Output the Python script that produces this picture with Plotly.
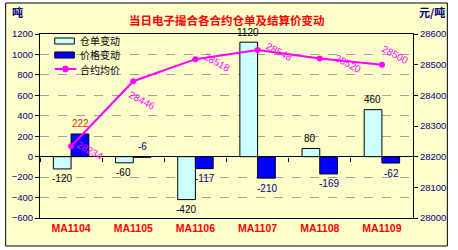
import plotly.graph_objects as go

categories = ["MA1104", "MA1105", "MA1106", "MA1107", "MA1108", "MA1109"]
warrant_change = [-120, -60, -420, 1120, 80, 460]
price_change = [222, -6, -117, -210, -169, -62]
avg_price = [28234, 28446, 28518, 28548, 28520, 28500]

title_text = "当日电子撮合各合约仓单及结算价变动"
left_unit = "吨"
right_unit = "元/吨"
series_names = ["仓单变动", "价格变动", "合约均价"]

BG = "#FFFFCC"
NAVY = "#000080"
TICKFONT = dict(family="Liberation Sans", size=9.5, color=NAVY)
CJK = "Noto Sans CJK SC"
LIGHT, BLUE, MAG = "#CCFFFF", "#0000FF", "#FF00FF"

fig = go.Figure()
fig.add_trace(go.Bar(x=categories, y=warrant_change, name=series_names[0],
                     marker=dict(color=LIGHT, line=dict(color="black", width=1))))
fig.add_trace(go.Bar(x=categories, y=price_change, name=series_names[1],
                     marker=dict(color=BLUE, line=dict(color="black", width=1))))
fig.add_trace(go.Scatter(x=categories, y=avg_price, name=series_names[2], yaxis="y2",
                         mode="lines+markers", line=dict(color=MAG, width=2),
                         marker=dict(size=6, color=MAG)))
# helper trace for zero-line boundary ticks
fig.add_trace(go.Scatter(x=categories, y=[0] * len(categories), xaxis="x2", mode="none",
                         showlegend=False, hoverinfo="skip"))

L, R, T, B = 38, 40, 34, 32
PW, PH = 458 - L - R, 250 - T - B

def px_x(p):
    return (p - L) / PW

def px_y(p):
    return (250 - B - p) / PH

annotations = []
# bar value labels
for c, v in zip(categories, warrant_change):
    annotations.append(dict(x=c, y=v, text=str(v), showarrow=False, xshift=-9.5,
                            yshift=10 if v >= 0 else -10,
                            font=dict(family="Liberation Sans", size=10, color="black")))
price_colors = ["#CC3300" if v > 0 else NAVY for v in price_change]
for c, v, col in zip(categories, price_change, price_colors):
    small = abs(v) < 20
    annotations.append(dict(x=c, y=0 if small else v, text=str(v), showarrow=False,
                            xshift=9.5, yshift=10 if (v >= 0 or small) else -10,
                            font=dict(family="Liberation Sans", size=10, color=col)))
# rotated price labels
label_shifts = [(19, -4), (9, -19), (22, -3), (21, -2), (28, -5), (13, 10)]
for c, v, (dx, dy) in zip(categories, avg_price, label_shifts):
    annotations.append(dict(x=c, y=v, yref="y2", text=str(v), showarrow=False,
                            xshift=dx, yshift=dy, textangle=28,
                            font=dict(family="Liberation Sans", size=10, color=MAG)))
annotations += [
    dict(x=0.5, y=1.02, xref="paper", yref="paper", xanchor="center", yanchor="bottom",
         text="<b>" + title_text + "</b>", showarrow=False,
         font=dict(family=CJK, size=11.5, color="#FF0000")),
    dict(x=-0.08, y=1.12, xref="paper", yref="paper", xanchor="left", yanchor="middle",
         text="<b>" + left_unit + "</b>", showarrow=False, font=dict(family=CJK, size=11, color=NAVY)),
    dict(x=1.09, y=1.12, xref="paper", yref="paper", xanchor="right", yanchor="middle",
         text="<b>" + right_unit + "</b>", showarrow=False, font=dict(family=CJK, size=11, color=NAVY)),
]

# custom legend (compact, like the original)
legend_rows = [41, 55, 69]
shapes = [dict(type="rect", xref="paper", yref="paper", x0=px_x(3), x1=px_x(453),
               y0=px_y(246), y1=px_y(3), line=dict(color="black", width=1),
               fillcolor=BG, layer="below")]
for i, (name, yy) in enumerate(zip(series_names, legend_rows)):
    if i < 2:
        shapes.append(dict(type="rect", xref="paper", yref="paper",
                           x0=px_x(53), x1=px_x(73), y0=px_y(yy + 3), y1=px_y(yy - 3),
                           fillcolor=[LIGHT, BLUE][i], line=dict(color="black", width=1)))
    else:
        shapes.append(dict(type="line", xref="paper", yref="paper",
                           x0=px_x(53), x1=px_x(75), y0=px_y(yy), y1=px_y(yy),
                           line=dict(color=MAG, width=2)))
        shapes.append(dict(type="circle", xref="paper", yref="paper",
                           x0=px_x(61), x1=px_x(67), y0=px_y(yy + 3), y1=px_y(yy - 3),
                           fillcolor=MAG, line=dict(color=MAG, width=1)))
    annotations.append(dict(x=px_x(78), y=px_y(yy), xref="paper", yref="paper",
                            xanchor="left", yanchor="middle", text=name, showarrow=False,
                            borderpad=0,
                            font=dict(family=CJK, size=10, color="black")))

fig.update_layout(
    width=458, height=250,
    margin=dict(l=L, r=R, t=T, b=B),
    paper_bgcolor="white", plot_bgcolor=BG,
    barmode="group", bargap=0.43, bargroupgap=0,
    showlegend=False,
    xaxis=dict(type="category", categoryarray=categories, showline=True, mirror=True,
               linecolor="black", linewidth=1, ticks="", showgrid=False,
               tickfont=dict(family="Liberation Sans", size=10.5, color="#FF0000", weight="bold")),
    xaxis2=dict(type="category", categoryarray=categories, overlaying="x", anchor="free",
                position=600 / 1800, matches="x", showticklabels=False, ticks="outside",
                ticklen=4, tickson="boundaries", tickcolor="black", showgrid=False, showline=False),
    yaxis=dict(range=[-600, 1200], dtick=200, showline=True, linecolor="black", linewidth=1,
               ticks="outside", ticklen=4, tickcolor="black", tickfont=TICKFONT,
               showgrid=True, gridcolor="#A0A0A0", griddash="dash", gridwidth=1,
               zeroline=True, zerolinecolor="black", zerolinewidth=1),
    yaxis2=dict(range=[28000, 28600], dtick=100, tickformat="d", overlaying="y", side="right",
                showline=True, linecolor="black", linewidth=1, ticks="outside", ticklen=4,
                tickcolor="black", tickfont=TICKFONT, showgrid=False, zeroline=False),
    annotations=annotations,
    shapes=shapes,
)

fig.write_html("out.html")
